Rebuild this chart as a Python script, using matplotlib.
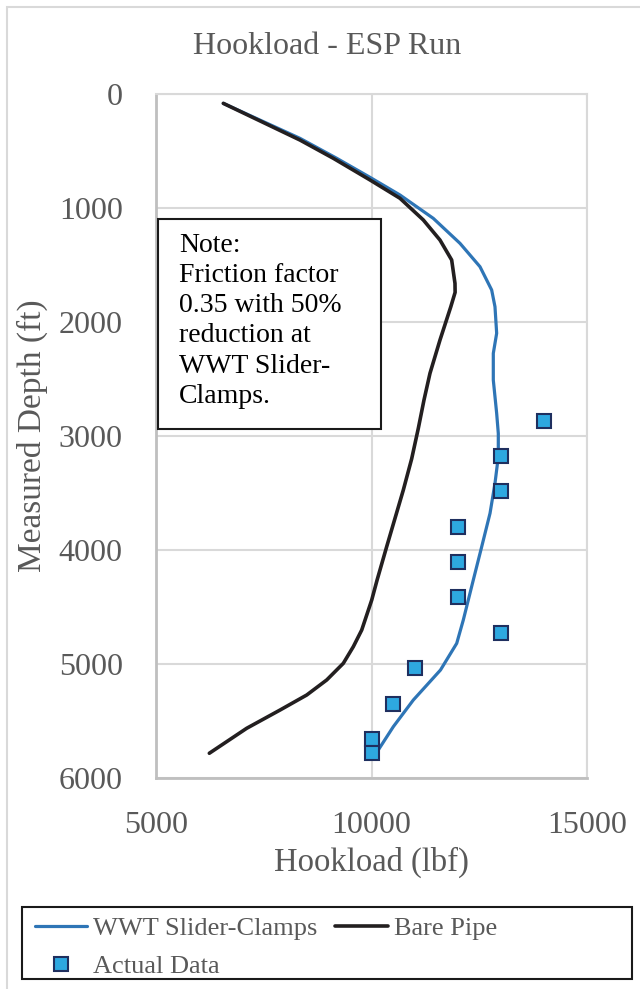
import matplotlib
matplotlib.use("Agg")
import matplotlib.pyplot as plt
from matplotlib.patches import Rectangle

plt.rcParams['font.family'] = ['Liberation Serif', 'DejaVu Serif']

# ---- data ----
wwt_depth = [82, 389, 564, 731, 886, 1091, 1310, 1515, 1719, 1866, 2099, 2275, 2509, 2801,
             2977, 3181, 3415, 3678, 3971, 4263, 4614, 4819, 5053, 5316, 5550, 5754, 5780]
wwt_load = [6562, 8341, 9193, 9965, 10661, 11434, 12053, 12517, 12788, 12865, 12904, 12826, 12826, 12904,
            12942, 12942, 12865, 12750, 12557, 12362, 12130, 11977, 11600, 10970, 10506, 10158, 10080]

bare_depth = [82, 404, 564, 754, 915, 1105, 1281, 1456, 1661, 1740, 1866, 2158, 2450, 2684, 2933,
              3200, 3474, 3971, 4263, 4439, 4702, 4848, 4994, 5140, 5272, 5404, 5564, 5783]
bare_load = [6562, 8341, 9114, 9965, 10661, 11202, 11589, 11860, 11937, 11940, 11840, 11589, 11357, 11218, 11086,
             10932, 10738, 10352, 10130, 10005, 9773, 9578, 9346, 8961, 8497, 7877, 7104, 6237]

act_depth = [2866, 3175, 3485, 3796, 4108, 4415, 4725, 5038, 5348, 5661, 5778]
act_load = [14000, 13000, 13000, 12000, 12000, 12000, 13000, 11000, 10500, 10000, 10000]

x_ticks = [5000, 10000, 15000]
y_ticks = [0, 1000, 2000, 3000, 4000, 5000, 6000]

title = "Hookload - ESP Run"
xlabel = "Hookload (lbf)"
ylabel = "Measured Depth (ft)"
note = "Note:\nFriction factor\n0.35 with 50%\nreduction at\nWWT Slider-\nClamps."

TXT = '#595959'
BLUE = '#2E75B6'
BLACK = '#231F20'
MFACE = '#2EA8E0'
MEDGE = '#1F2F5F'

W, H = 640, 989
fig = plt.figure(figsize=(W / 100, H / 100), dpi=100)

# outer chart border
fig.patches.append(Rectangle((7 / W, -0.1), 1.2, 1 - 7 / H + 0.1, transform=fig.transFigure,
                             fill=False, edgecolor='#D9D9D9', linewidth=1.5))

ax = fig.add_axes([156 / W, 1 - 778 / H, (587 - 156) / W, (778 - 94) / H])

ax.plot(wwt_load, wwt_depth, color=BLUE, lw=2.3, label='WWT Slider-Clamps', zorder=3,
        solid_joinstyle='round', solid_capstyle='round')
ax.plot(bare_load, bare_depth, color=BLACK, lw=2.6, label='Bare Pipe', zorder=3,
        solid_joinstyle='round', solid_capstyle='round')
ax.plot(act_load, act_depth, linestyle='none', marker='s', markersize=9.5,
        markerfacecolor=MFACE, markeredgecolor=MEDGE, markeredgewidth=1.5,
        label='Actual Data', zorder=4)

ax.set_xlim(5000, 15000)
ax.set_ylim(6000, 0)
ax.set_xticks(x_ticks)
ax.set_yticks(y_ticks)
ax.grid(True, color='#D9D9D9', lw=1.5, zorder=0)
ax.set_axisbelow(True)
for s in ['top', 'right']:
    ax.spines[s].set_color('#D9D9D9')
    ax.spines[s].set_linewidth(1.5)
for s in ['left', 'bottom']:
    ax.spines[s].set_color('#BFBFBF')
    ax.spines[s].set_linewidth(2)
ax.tick_params(length=0, labelsize=23, labelcolor=TXT)
ax.tick_params(axis='y', pad=24)
ax.tick_params(axis='x', pad=24)

ax.set_xlabel(xlabel, fontsize=23.5, color=TXT)
ax.set_ylabel(ylabel, fontsize=24, color=TXT)
ax.yaxis.set_label_coords((32 - 156) / (587 - 156), 0.5)
ax.xaxis.set_label_coords(0.5, (778 - 862) / (778 - 94))
ax.xaxis.label.set_va('center')
ax.yaxis.label.set_va('center')

fig.text(327 / W, 1 - 47 / H, title, fontsize=23, color=TXT, ha='center', va='center')

# note box
fig.patches.append(Rectangle((158 / W, 1 - 429 / H), (381 - 158) / W, (429 - 219) / H,
                             transform=fig.transFigure, facecolor='white', edgecolor='#1a1a1a',
                             linewidth=1.5, zorder=5))
fig.text(179 / W, 1 - 233 / H, note, fontsize=20, color='black', ha='left', va='top',
         linespacing=1.27, zorder=6)

# legend box
fig.patches.append(Rectangle((22 / W, 1 - 979 / H), (632 - 22) / W, (979 - 907) / H,
                             transform=fig.transFigure, fill=False, edgecolor='#1a1a1a', linewidth=1.5))
h, l = ax.get_legend_handles_labels()
order = [0, 2, 1]
leg = fig.legend([h[i] for i in order], [l[i] for i in order], ncol=2,
                 loc='upper left', bbox_to_anchor=(24 / W, 1 - 906 / H), frameon=False,
                 fontsize=19, handlelength=2.0, handletextpad=0.2, columnspacing=0.7,
                 labelspacing=0.55, borderaxespad=0)
for t in leg.get_texts():
    t.set_color(TXT)

fig.savefig('out.png', dpi=100)
